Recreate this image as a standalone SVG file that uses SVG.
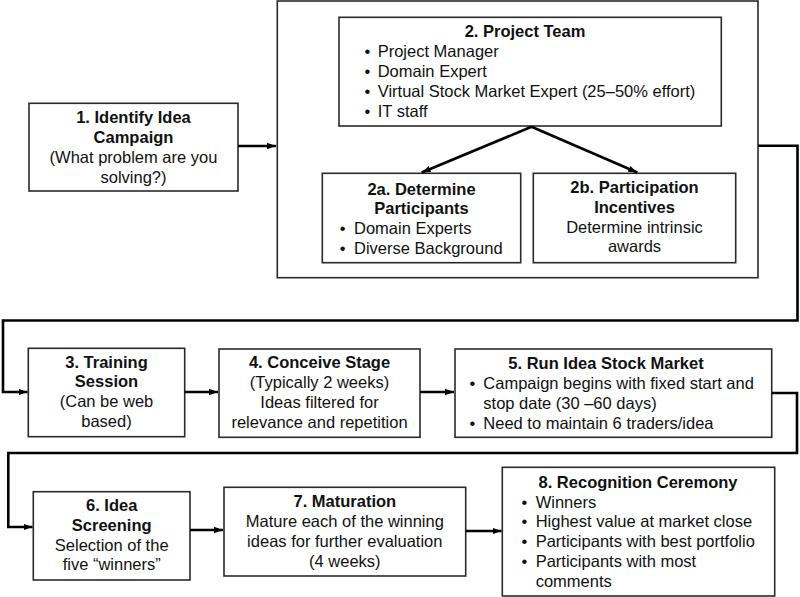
<svg xmlns="http://www.w3.org/2000/svg" width="800" height="597" viewBox="0 0 800 597">
<style>
.box{fill:#fff;stroke:#2a2a2a;stroke-width:1.6}
.frame{fill:none;stroke:#2a2a2a;stroke-width:1.6}
.t{font-family:"Liberation Sans",Arial,Helvetica,sans-serif;font-size:16.5px;fill:#111}
.c{text-anchor:middle}
.b{font-weight:bold}
.con{fill:none;stroke:#000;stroke-width:2.6;stroke-linejoin:miter}
</style>
<defs>
<marker id="ah" markerUnits="userSpaceOnUse" markerWidth="10" markerHeight="8" refX="9" refY="4" orient="auto">
<path d="M0,0.8 L9,4 L0,7.2 Z" fill="#000"/>
</marker>
</defs>
<rect width="800" height="597" fill="#fff"/>

<g id="node2">
<rect class="frame" x="277.3" y="1" width="480.7" height="276.7"/>
</g>

<g id="node1">
<rect class="box" x="29" y="103.3" width="209" height="87.7"/>
<text class="t c b" x="133.5" y="123">1. Identify Idea</text>
<text class="t c b" x="133.5" y="143">Campaign</text>
<text class="t c" x="133.5" y="163">(What problem are you</text>
<text class="t c" x="133.5" y="183">solving?)</text>
</g>

<g id="node2-team">
<rect class="box" x="339" y="17.3" width="382.3" height="108.7"/>
<text class="t c b" x="525" y="36.7">2. Project Team</text>
<text class="t c" x="367.3" y="57.3">•</text>
<text class="t" x="377.7" y="57.3">Project Manager</text>
<text class="t c" x="367.3" y="77.3">•</text>
<text class="t" x="377.7" y="77.3">Domain Expert</text>
<text class="t c" x="367.3" y="97.3">•</text>
<text class="t" x="377.7" y="97.3">Virtual Stock Market Expert (25–50% effort)</text>
<text class="t c" x="367.3" y="117.3">•</text>
<text class="t" x="377.7" y="117.3">IT staff</text>
</g>

<g id="node2a">
<rect class="box" x="322.3" y="173.3" width="198.4" height="89.4"/>
<text class="t c b" x="421.5" y="195">2a. Determine</text>
<text class="t c b" x="421.5" y="214">Participants</text>
<text class="t c" x="342.7" y="234.3">•</text>
<text class="t" x="354" y="234.3">Domain Experts</text>
<text class="t c" x="342.7" y="254">•</text>
<text class="t" x="354" y="254">Diverse Background</text>
</g>

<g id="node2b">
<rect class="box" x="533.3" y="173.3" width="202.4" height="89.4"/>
<text class="t c b" x="634.5" y="193.3">2b. Participation</text>
<text class="t c b" x="634.5" y="213.3">Incentives</text>
<text class="t c" x="634.5" y="232.7">Determine intrinsic</text>
<text class="t c" x="634.5" y="252.3">awards</text>
</g>

<g id="node3">
<rect class="box" x="28.3" y="348.3" width="156.4" height="88.4"/>
<text class="t c b" x="106.5" y="368.3">3. Training</text>
<text class="t c b" x="106.5" y="387.3">Session</text>
<text class="t c" x="106.5" y="406.7">(Can be web</text>
<text class="t c" x="106.5" y="426.7">based)</text>
</g>

<g id="node4">
<rect class="box" x="219" y="349" width="201" height="88.3"/>
<text class="t c b" x="319.5" y="368.3">4. Conceive Stage</text>
<text class="t c" x="319.5" y="388.3">(Typically 2 weeks)</text>
<text class="t c" x="319.5" y="408.3">Ideas filtered for</text>
<text class="t c" x="319.5" y="428.3">relevance and repetition</text>
</g>

<g id="node5">
<rect class="box" x="455" y="349" width="316.7" height="88.3"/>
<text class="t c b" x="606" y="369.3">5. Run Idea Stock Market</text>
<text class="t c" x="472.3" y="389.3">•</text>
<text class="t" x="483.3" y="389.3">Campaign begins with fixed start and</text>
<text class="t" x="483.3" y="409.3">stop date (30 –60 days)</text>
<text class="t c" x="472.3" y="429">•</text>
<text class="t" x="483.3" y="429">Need to maintain 6 traders/idea</text>
</g>

<g id="node6">
<rect class="box" x="33.3" y="491.7" width="156.7" height="88.3"/>
<text class="t c b" x="111.7" y="510.7">6. Idea</text>
<text class="t c b" x="111.7" y="531">Screening</text>
<text class="t c" x="111.7" y="551">Selection of the</text>
<text class="t c" x="111.7" y="570">five “winners”</text>
</g>

<g id="node7">
<rect class="box" x="224" y="487.3" width="241.7" height="88.7"/>
<text class="t c b" x="344.8" y="506.7">7. Maturation</text>
<text class="t c" x="344.8" y="527.3">Mature each of the winning</text>
<text class="t c" x="344.8" y="546.7">ideas for further evaluation</text>
<text class="t c" x="344.8" y="566.7">(4 weeks)</text>
</g>

<g id="node8">
<rect class="box" x="502.3" y="467.3" width="272.4" height="128.7"/>
<text class="t c b" x="638" y="488.3">8. Recognition Ceremony</text>
<text class="t c" x="524.3" y="507.7">•</text>
<text class="t" x="535.7" y="507.7">Winners</text>
<text class="t c" x="524.3" y="527.3">•</text>
<text class="t" x="535.7" y="527.3">Highest value at market close</text>
<text class="t c" x="524.3" y="546.7">•</text>
<text class="t" x="535.7" y="546.7">Participants with best portfolio</text>
<text class="t c" x="524.3" y="566.7">•</text>
<text class="t" x="535.7" y="566.7">Participants with most</text>
<text class="t" x="535.7" y="586.7">comments</text>
</g>

<g id="connectors">
<path class="con" d="M238,146 H276" marker-end="url(#ah)"/>
<path class="con" d="M531.5,126.8 L421.7,172.5" marker-end="url(#ah)"/>
<path class="con" d="M531.5,126.8 L637.3,172.5" marker-end="url(#ah)"/>
<path class="con" d="M758,145.7 H797.5 V320.5 H3 V392 H27.5" marker-end="url(#ah)"/>
<path class="con" d="M184.7,392 H218" marker-end="url(#ah)"/>
<path class="con" d="M420,392 H454" marker-end="url(#ah)"/>
<path class="con" d="M771.7,393 H797 V453 H8.3 V527 H32.5" marker-end="url(#ah)"/>
<path class="con" d="M190,530 H223" marker-end="url(#ah)"/>
<path class="con" d="M465.7,531 H501.5" marker-end="url(#ah)"/>
</g>
</svg>
